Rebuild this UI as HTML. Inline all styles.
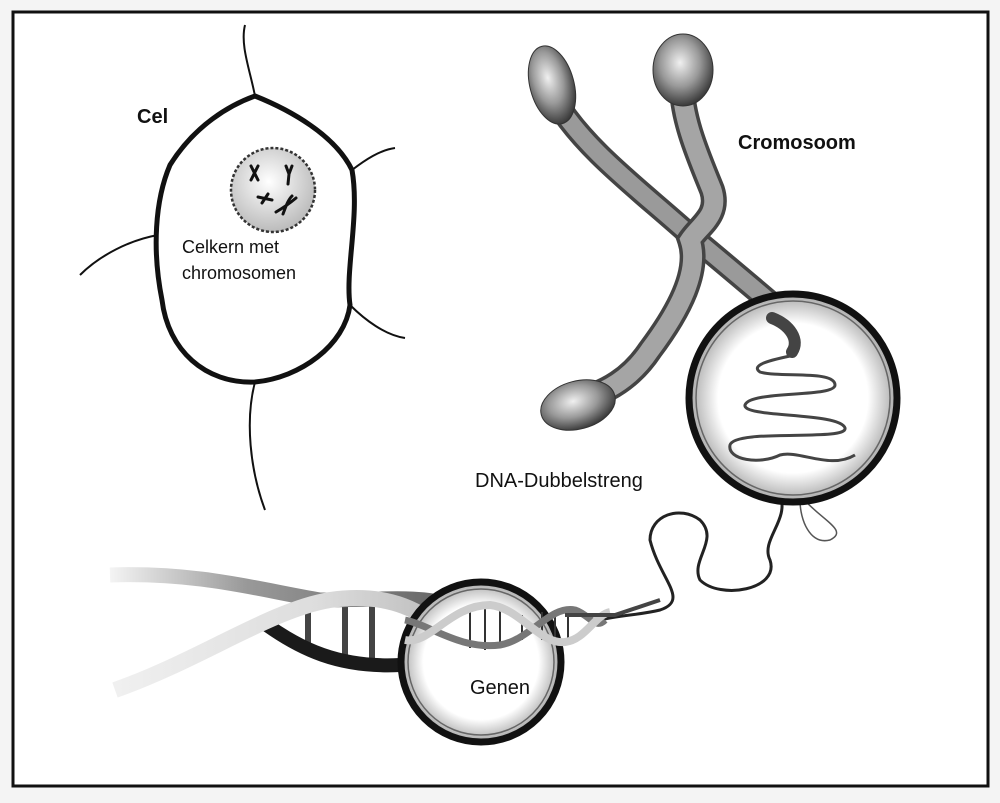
<!DOCTYPE html>
<html><head><meta charset="utf-8"><style>
html,body{margin:0;padding:0;background:#fff;}
svg{display:block}
text{font-family:"Comic Sans MS","Liberation Sans",sans-serif;}
</style></head><body>
<svg width="1000" height="803" viewBox="0 0 1000 803" xmlns="http://www.w3.org/2000/svg">
<defs>
<radialGradient id="lens" cx="50%" cy="50%" r="50%">
<stop offset="72%" stop-color="#fff"/><stop offset="100%" stop-color="#a8a8a8"/>
</radialGradient>
<radialGradient id="bulb" cx="45%" cy="40%" r="60%">
<stop offset="0" stop-color="#f0f0f0"/><stop offset="0.55" stop-color="#999"/><stop offset="1" stop-color="#3a3a3a"/>
</radialGradient>
<radialGradient id="nuc" cx="45%" cy="40%" r="60%">
<stop offset="0" stop-color="#fff"/><stop offset="1" stop-color="#bbb"/>
</radialGradient>
<linearGradient id="sA" x1="0" y1="0" x2="1" y2="0">
<stop offset="0" stop-color="#f4f4f4"/><stop offset="0.4" stop-color="#999"/><stop offset="1" stop-color="#666"/>
</linearGradient>
<linearGradient id="sB" x1="0" y1="0" x2="1" y2="0">
<stop offset="0" stop-color="#f0f0f0"/><stop offset="0.6" stop-color="#ddd"/><stop offset="1" stop-color="#bbb"/>
</linearGradient>
</defs>
<rect x="0" y="0" width="1000" height="803" fill="#f4f4f4"/>
<rect x="13" y="12" width="975" height="774" fill="#fff" stroke="#111" stroke-width="3"/>

<!-- Cell -->
<path d="M255,96 C290,110 335,135 352,170 C360,215 345,270 350,305 C345,345 300,378 255,382 C205,384 168,350 162,300 C152,250 155,200 170,165 C195,125 230,105 255,96 Z" fill="none" stroke="#111" stroke-width="5"/>
<path d="M255,96 C250,70 240,45 245,25" fill="none" stroke="#111" stroke-width="2"/>
<path d="M352,170 C365,160 380,150 395,148" fill="none" stroke="#111" stroke-width="2"/>
<path d="M350,305 C365,320 385,335 405,338" fill="none" stroke="#111" stroke-width="2"/>
<path d="M255,382 C245,420 250,470 265,510" fill="none" stroke="#111" stroke-width="2"/>
<path d="M158,235 C130,240 100,255 80,275" fill="none" stroke="#111" stroke-width="2"/>
<circle cx="273" cy="190" r="42" fill="url(#nuc)" stroke="#333" stroke-width="2.5" stroke-dasharray="3 2"/>
<g stroke="#111" stroke-width="3" fill="none" stroke-linecap="round">
<path d="M251,166 L258,180 M258,166 L251,180"/>
<path d="M286,166 L289,174 L292,166 M289,174 L288,184"/>
<path d="M258,197 L272,200 M262,203 L268,194"/>
<path d="M276,212 C283,208 290,203 296,198 M283,214 C286,206 288,200 292,196"/>
</g>
<text x="137" y="123" font-size="20" font-weight="bold" fill="#111">Cel</text>
<text x="182" y="253" font-size="18" fill="#111">Celkern met</text>
<text x="182" y="279" font-size="18" fill="#111">chromosomen</text>

<!-- Chromosome -->
<g fill="none" stroke-linecap="round">
<path d="M555,100 C585,150 640,190 690,235 C720,260 750,285 785,315" stroke="#444" stroke-width="24"/>
<path d="M555,100 C585,150 640,190 690,235 C720,260 750,285 785,315" stroke="#9a9a9a" stroke-width="17"/>
<path d="M682,85 C682,120 700,160 712,190 C720,215 700,225 690,240 C700,270 680,310 650,350 C630,380 605,392 585,398" stroke="#444" stroke-width="26"/>
<path d="M682,85 C682,120 700,160 712,190 C720,215 700,225 690,240 C700,270 680,310 650,350 C630,380 605,392 585,398" stroke="#a5a5a5" stroke-width="19"/>
</g>
<ellipse cx="552" cy="85" rx="22" ry="40" transform="rotate(-15 552 85)" fill="url(#bulb)" stroke="#333" stroke-width="1"/>
<ellipse cx="683" cy="70" rx="30" ry="36" fill="url(#bulb)" stroke="#333" stroke-width="1"/>
<ellipse cx="578" cy="405" rx="38" ry="24" transform="rotate(-15 578 405)" fill="url(#bulb)" stroke="#333" stroke-width="1"/>
<text x="738" y="149" font-size="20" font-weight="bold" fill="#111">Cromosoom</text>

<!-- DNA loops below magnifier -->
<path d="M780,495 C790,520 760,540 770,560 C780,590 720,600 700,580 C690,560 720,540 700,520 C680,505 650,515 650,540 C660,580 690,600 660,610 C640,615 620,615 600,620" fill="none" stroke="#222" stroke-width="3"/>
<path d="M800,495 C820,520 850,530 830,540 C810,545 800,520 800,500" fill="none" stroke="#555" stroke-width="1.5"/>

<!-- Magnifier 1 -->
<circle cx="793" cy="398" r="104" fill="url(#lens)" stroke="#111" stroke-width="7"/>
<circle cx="793" cy="398" r="97" fill="none" stroke="#666" stroke-width="1.5"/>
<path d="M772,318 C790,325 800,340 792,352" fill="none" stroke="#444" stroke-width="12" stroke-linecap="round"/>
<g fill="none" stroke="#444" stroke-width="3">
<path d="M795,355 C770,360 750,365 760,372 C780,378 835,370 835,385 C835,398 750,390 745,405 C742,418 840,412 845,428 C848,442 735,428 730,445 C727,460 760,465 780,455 C800,450 830,470 855,455"/>
</g>
<text x="475" y="487" font-size="20" fill="#111">DNA-Dubbelstreng</text>

<!-- DNA helix -->
<g stroke="#444" stroke-width="6">
<line x1="308" y1="605" x2="308" y2="650"/><line x1="345" y1="600" x2="345" y2="658"/><line x1="372" y1="598" x2="372" y2="660"/>
</g>
<path d="M260,620 C300,650 340,668 400,665" fill="none" stroke="#1a1a1a" stroke-width="14"/>
<path d="M110,575 C200,572 260,590 320,600 C380,600 420,595 450,605" fill="none" stroke="url(#sA)" stroke-width="15"/>
<path d="M115,690 C200,660 270,610 330,600 C400,590 430,620 450,635" fill="none" stroke="url(#sB)" stroke-width="16"/>

<!-- Magnifier 2 -->
<circle cx="481" cy="662" r="80" fill="url(#lens)" stroke="#111" stroke-width="7"/>
<circle cx="481" cy="662" r="73" fill="none" stroke="#666" stroke-width="1.5"/>
<g stroke="#333" stroke-width="2">
<line x1="470" y1="610" x2="470" y2="648"/><line x1="485" y1="607" x2="485" y2="650"/><line x1="500" y1="610" x2="500" y2="648"/>
<line x1="522" y1="615" x2="522" y2="640"/>
<line x1="542" y1="612" x2="542" y2="640"/><line x1="555" y1="610" x2="555" y2="642"/><line x1="568" y1="612" x2="568" y2="640"/>
</g>
<path d="M405,620 C430,625 460,650 500,645 C530,640 550,605 575,610 C590,615 595,630 605,620" fill="none" stroke="#777" stroke-width="7"/>
<path d="M405,640 C430,645 450,605 490,605 C520,608 540,645 565,642 C585,640 595,615 610,612" fill="none" stroke="#ccc" stroke-width="8"/>
<path d="M565,615 L615,615 L660,600" fill="none" stroke="#444" stroke-width="4"/>
<text x="470" y="694" font-size="20" fill="#111">Genen</text>
</svg>
</body></html>
